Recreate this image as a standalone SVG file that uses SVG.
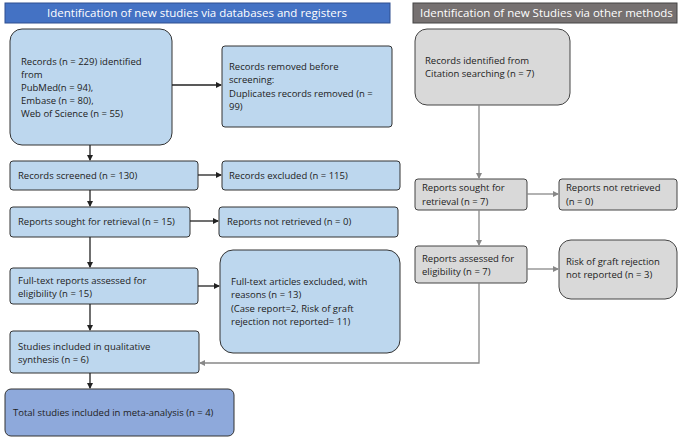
<svg xmlns="http://www.w3.org/2000/svg" width="685" height="441" viewBox="0 0 685 441">
<style>
text{font-family:"Open Sans","Liberation Sans",sans-serif;font-size:9.5px;fill:#222}
.b{fill:#BDD7EE;stroke:#333;stroke-width:1}
.g{fill:#D9D9D9;stroke:#444;stroke-width:1}
.c line,.c path{stroke:#222;stroke-width:1.3;fill:none}
.c .gr{stroke:#888}
.h{fill:#fff;font-size:11.5px}
</style>
<defs>
<marker id="a" markerWidth="6" markerHeight="6" refX="5" refY="3" orient="auto" markerUnits="userSpaceOnUse"><path d="M0,0L6,3L0,6z" fill="#222"/></marker>
<marker id="ag" markerWidth="6" markerHeight="6" refX="5" refY="3" orient="auto" markerUnits="userSpaceOnUse"><path d="M0,0L6,3L0,6z" fill="#888"/></marker>
</defs>
<g id="hdr1"><rect x="5" y="3" width="385" height="20" fill="#4472C4" stroke="#2F4F8F"/><text class="h" x="197" y="17" text-anchor="middle">Identification of new studies via databases and registers</text></g>
<g id="hdr2"><rect x="413" y="3" width="264" height="20" fill="#767171" stroke="#444"/><text class="h" x="420" y="17">Identification of new Studies via other methods</text></g>
<g id="n1"><rect class="b" x="10" y="29" width="162" height="116" rx="12"/><text x="21" y="65">Records (n = 229) identified</text><text x="21" y="78">from</text><text x="21" y="91">PubMed(n = 94),</text><text x="21" y="104">Embase (n = 80),</text><text x="21" y="117">Web of Science (n = 55)</text></g>
<g id="n2"><rect class="b" x="222" y="46" width="170" height="81" rx="3"/><text x="229" y="70">Records removed before</text><text x="229" y="83">screening:</text><text x="229" y="97">Duplicates records removed (n =</text><text x="229" y="110">99)</text></g>
<g id="n3"><rect class="b" x="10" y="161" width="188" height="29" rx="3"/><text x="18" y="179">Records screened (n = 130)</text></g>
<g id="n4"><rect class="b" x="222" y="161" width="178" height="29" rx="3"/><text x="229" y="179">Records excluded (n = 115)</text></g>
<g id="n5"><rect class="b" x="10" y="207" width="180" height="30" rx="3"/><text x="18" y="225">Reports sought for retrieval (n = 15)</text></g>
<g id="n6"><rect class="b" x="219" y="207" width="179" height="30" rx="3"/><text x="227" y="225">Reports not retrieved (n = 0)</text></g>
<g id="n7"><rect class="b" x="10" y="268" width="188" height="36" rx="3"/><text x="18" y="284">Full-text reports assessed for</text><text x="18" y="297">eligibility  (n = 15)</text></g>
<g id="n8"><rect class="b" x="220" y="250" width="180" height="103" rx="13"/><text x="231" y="285">Full-text articles excluded, with</text><text x="231" y="298">reasons (n  = 13)</text><text x="231" y="312">(Case report=2, Risk of graft</text><text x="231" y="325">rejection not reported= 11)</text></g>
<g id="n9"><rect class="b" x="10" y="331" width="189" height="42" rx="3"/><text x="18" y="350">Studies included in qualitative</text><text x="18" y="363">synthesis (n = 6)</text></g>
<g id="n10"><rect x="5" y="389" width="229" height="47" rx="6" fill="#8EA9DB" stroke="#333"/><text x="13" y="416">Total studies included in meta-analysis (n = 4)</text></g>
<g id="r1"><rect class="g" x="415" y="29" width="155" height="76" rx="12"/><text x="425" y="64">Records identified from</text><text x="425" y="77">Citation searching (n = 7)</text></g>
<g id="r2"><rect class="g" x="415" y="179" width="112" height="31" rx="3"/><text x="422" y="191">Reports sought for</text><text x="422" y="205">retrieval (n = 7)</text></g>
<g id="r3"><rect class="g" x="559" y="179" width="118" height="31" rx="3"/><text x="566" y="191">Reports not retrieved</text><text x="566" y="205">(n = 0)</text></g>
<g id="r4"><rect class="g" x="415" y="246" width="112" height="37" rx="3"/><text x="422" y="262">Reports assessed  for</text><text x="422" y="275">eligibility (n = 7)</text></g>
<g id="r5"><rect class="g" x="559" y="240" width="118" height="59" rx="12"/><text x="566" y="265">Risk of graft rejection</text><text x="566" y="278">not reported (n = 3)</text></g>
<g class="c" id="connectors">
<line x1="172" y1="85" x2="221" y2="85" marker-end="url(#a)"/>
<line x1="90" y1="145" x2="90" y2="160" marker-end="url(#a)"/>
<line x1="198" y1="175" x2="221" y2="175" marker-end="url(#a)"/>
<line x1="90" y1="190" x2="90" y2="206" marker-end="url(#a)"/>
<line x1="190" y1="221" x2="218" y2="221" marker-end="url(#a)"/>
<line x1="90" y1="237" x2="90" y2="267" marker-end="url(#a)"/>
<line x1="198" y1="286" x2="219" y2="286" marker-end="url(#a)"/>
<line x1="90" y1="304" x2="90" y2="330" marker-end="url(#a)"/>
<line x1="90" y1="373" x2="90" y2="388" marker-end="url(#a)"/>
<line class="gr" x1="479" y1="105" x2="479" y2="178" marker-end="url(#ag)"/>
<line class="gr" x1="527" y1="194" x2="558" y2="194" marker-end="url(#ag)"/>
<line class="gr" x1="479" y1="210" x2="479" y2="245" marker-end="url(#ag)"/>
<line class="gr" x1="527" y1="269" x2="558" y2="269" marker-end="url(#ag)"/>
<path class="gr" d="M479,283V363H200" marker-end="url(#ag)"/>
</g>
</svg>
